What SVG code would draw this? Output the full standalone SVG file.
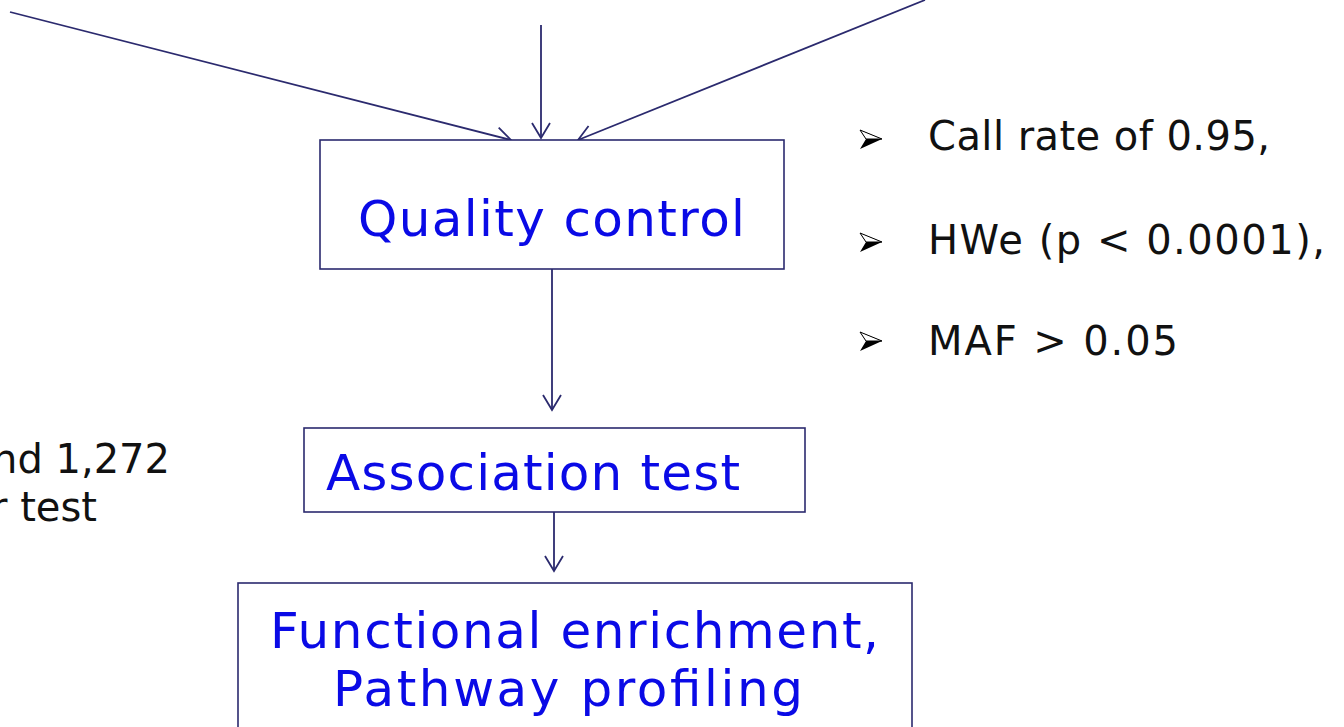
<svg xmlns="http://www.w3.org/2000/svg" width="1344" height="727" viewBox="0 0 1344 727">
<style>
.box{fill:#fff;stroke:#2b2a6e;stroke-width:1.6}
.conn{stroke:#2b2a6e;stroke-width:1.8;fill:none}
.lbl{font-family:"DejaVu Sans",Verdana,sans-serif;fill:#0a0ae6;font-size:50px}
.side{font-family:"DejaVu Sans",Verdana,sans-serif;fill:#111;font-size:40px}
</style>
<defs>
<marker id="ah" viewBox="0 0 20 20" refX="18" refY="10" markerWidth="20" markerHeight="20" markerUnits="userSpaceOnUse" orient="auto">
<polyline points="3,1 18,10 3,19" fill="none" stroke="#2b2a6e" stroke-width="1.8"/>
</marker>
<g id="bul"><polygon points="0,0 22,9 0,19 6,9" fill="#000"/><polygon points="0,0 22,9 6,9" fill="#fff" stroke="#000" stroke-width="1"/></g>
</defs>
<rect width="1344" height="727" fill="#fff"/>
<g id="connectors">
<line class="conn" x1="10" y1="12" x2="511" y2="140" marker-end="url(#ah)"/>
<line class="conn" x1="541" y1="25" x2="541" y2="138" marker-end="url(#ah)"/>
<line class="conn" x1="925" y1="0" x2="578" y2="140" marker-end="url(#ah)"/>
<line class="conn" x1="552" y1="269" x2="552" y2="410" marker-end="url(#ah)"/>
<line class="conn" x1="554" y1="512" x2="554" y2="571" marker-end="url(#ah)"/>
</g>
<g id="qc">
<rect class="box" x="320" y="140" width="464" height="129"/>
<text class="lbl" x="358" y="236" textLength="387" lengthAdjust="spacing">Quality control</text>
</g>
<g id="assoc">
<rect class="box" x="304" y="428" width="501" height="84"/>
<text class="lbl" x="326" y="490" textLength="414" lengthAdjust="spacing">Association test</text>
</g>
<g id="func">
<rect class="box" x="238" y="583" width="674" height="160"/>
<text class="lbl" x="270" y="648" textLength="609" lengthAdjust="spacing">Functional enrichment,</text>
<text class="lbl" x="333" y="706" textLength="470" lengthAdjust="spacing">Pathway profiling</text>
</g>
<g id="criteria">
<use href="#bul" x="860" y="130"/>
<text class="side" x="928" y="150" textLength="342" lengthAdjust="spacing">Call rate of 0.95,</text>
<use href="#bul" x="860" y="233"/>
<text class="side" x="928" y="254" textLength="397" lengthAdjust="spacing">HWe (p &lt; 0.0001),</text>
<use href="#bul" x="860" y="332"/>
<text class="side" x="928" y="355" textLength="250" lengthAdjust="spacing">MAF &gt; 0.05</text>
</g>
<g id="leftnote">
<text class="side" x="170" y="473" text-anchor="end">nd 1,272</text>
<text class="side" x="97" y="521" text-anchor="end">r test</text>
</g>
</svg>
